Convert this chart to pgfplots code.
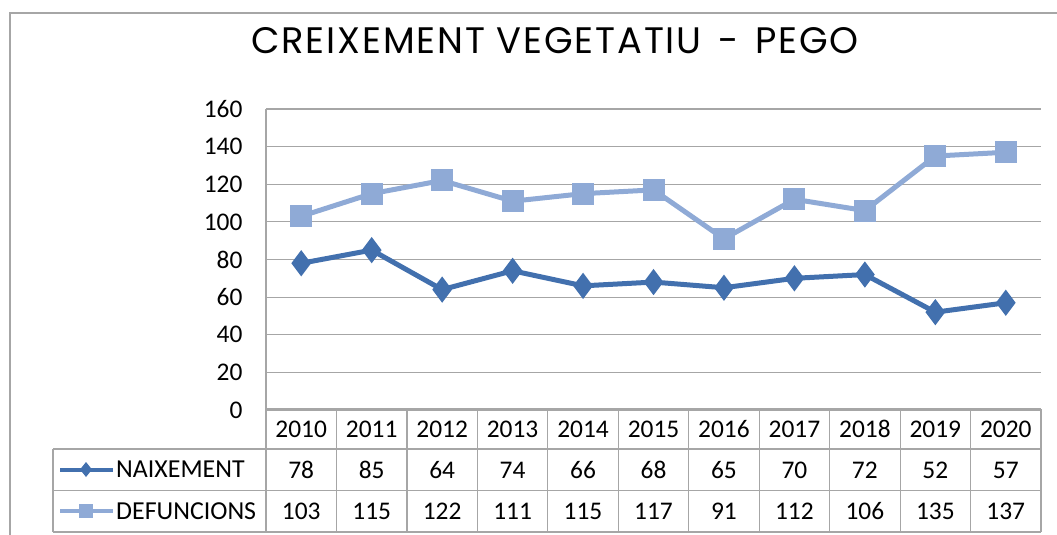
\documentclass[border=0pt]{standalone}
\usepackage{pgfplots}
\pgfplotsset{compat=1.18}
\usepackage{fontspec}
\setmainfont{Carlito}
\newfontfamily\titlefont[LetterSpace=5]{Poppins}
\definecolor{nai}{RGB}{66,112,174}
\definecolor{def}{RGB}{143,170,214}
\definecolor{gridc}{RGB}{166,166,166}
\begin{document}
\begin{tikzpicture}[x=1bp,y=1bp]
\useasboundingbox (0,0) rectangle (1057,-535);
\draw[gridc, line width=1.3bp] (10,-535) -- (10,-13) -- (1057,-13);
\node[font=\titlefont\fontsize{37}{41}\selectfont] at (555,-41) {CREIXEMENT VEGETATIU\hspace{5bp} -\hspace{5bp} PEGO};
\begin{axis}[at={(266bp,-410bp)}, anchor=south west, scale only axis,
  width=775bp, height=301bp, xmin=-0.5, xmax=10.5, ymin=0, ymax=160,
  ytick={0,20,...,160}, xtick=\empty, ymajorgrids,
  grid style={gridc, line width=1.2bp}, axis line style={draw=none},
  major tick length=0pt,
  yticklabel style={font=\fontsize{25.5}{30}\selectfont, xshift=-20bp},
  /pgf/number format/assume math mode=true, clip=false]
\addplot[nai, line width=5bp, mark=diamond*, mark size=9bp, mark options={solid}]
  coordinates {(0,78)(1,85)(2,64)(3,74)(4,66)(5,68)(6,65)(7,70)(8,72)(9,52)(10,57)};
\addplot[def, line width=5bp, mark=square*, mark size=8.5bp, mark options={solid}]
  coordinates {(0,103)(1,115)(2,122)(3,111)(4,115)(5,117)(6,91)(7,112)(8,106)(9,135)(10,137)};
\end{axis}
% table grid
\draw[gridc, line width=1.2bp] (266,-109) -- (266,-532);
\draw[gridc, line width=1.2bp] (266,-409) -- (1041,-409);
\draw[gridc, line width=1.2bp] (53,-449) -- (1041,-449);
\draw[gridc, line width=1.2bp] (53,-490.5) -- (1041,-490.5);
\draw[gridc, line width=1.2bp] (53,-532) -- (1041,-532);
\draw[gridc, line width=1.2bp] (53,-449) -- (53,-532);
\foreach \k in {1,...,11} {
  \draw[gridc, line width=1.2bp] ({266+70.4545*\k},-409) -- ({266+70.4545*\k},-532);
}
\foreach \yr/\a/\b [count=\k from 0] in {2010/78/103,2011/85/115,2012/64/122,2013/74/111,2014/66/115,2015/68/117,2016/65/91,2017/70/112,2018/72/106,2019/52/135,2020/57/137} {
  \node[font=\fontsize{25.5}{30}\selectfont] at ({266+70.4545*(\k+0.5)},-429) {\yr};
  \node[font=\fontsize{25.5}{30}\selectfont] at ({266+70.4545*(\k+0.5)},-470) {\a};
  \node[font=\fontsize{25.5}{30}\selectfont] at ({266+70.4545*(\k+0.5)},-511) {\b};
}
% legend keys
\draw[nai, line width=4bp] (60,-469.5) -- (113,-469.5);
\fill[nai] (86,-462) -- (92,-469.5) -- (86,-477) -- (80,-469.5) -- cycle;
\draw[def, line width=4bp] (60,-511) -- (113,-511);
\fill[def] (79,-504) rectangle (93,-518);
\node[font=\fontsize{26}{30}\selectfont, anchor=west, inner sep=0pt] at (116,-469.5) {NAIXEMENT};
\node[font=\fontsize{26}{30}\selectfont, anchor=west, inner sep=0pt] at (116,-511) {DEFUNCIONS};
\end{tikzpicture}
\end{document}
